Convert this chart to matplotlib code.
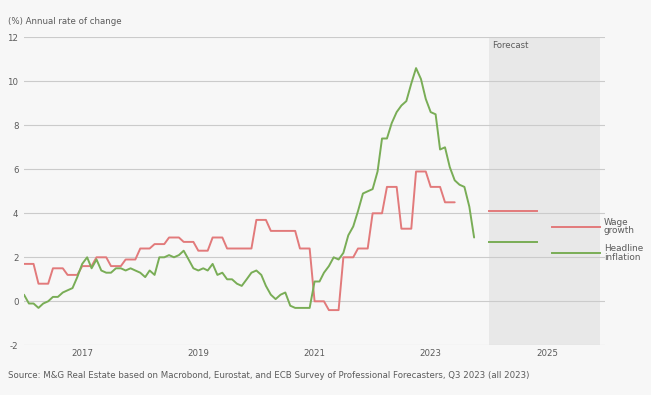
import numpy as np
import pandas as pd
import matplotlib
matplotlib.use("Agg")
import matplotlib.pyplot as plt

# ---- data ----
# Headline inflation, monthly from Jan 2016 (%)
inflation = [
    0.3, -0.1, -0.1, -0.3, -0.1, 0.0, 0.2, 0.2, 0.4, 0.5, 0.6, 1.1,      # 2016
    1.7, 2.0, 1.5, 1.9, 1.4, 1.3, 1.3, 1.5, 1.5, 1.4, 1.5, 1.4,          # 2017
    1.3, 1.1, 1.4, 1.2, 2.0, 2.0, 2.1, 2.0, 2.1, 2.3, 1.9, 1.5,          # 2018
    1.4, 1.5, 1.4, 1.7, 1.2, 1.3, 1.0, 1.0, 0.8, 0.7, 1.0, 1.3,          # 2019
    1.4, 1.2, 0.7, 0.3, 0.1, 0.3, 0.4, -0.2, -0.3, -0.3, -0.3, -0.3,     # 2020
    0.9, 0.9, 1.3, 1.6, 2.0, 1.9, 2.2, 3.0, 3.4, 4.1, 4.9, 5.0,          # 2021
    5.1, 5.9, 7.4, 7.4, 8.1, 8.6, 8.9, 9.1, 9.9, 10.6, 10.1, 9.2,        # 2022
    8.6, 8.5, 6.9, 7.0, 6.1, 5.5, 5.3, 5.2, 4.3, 2.9,                    # 2023
]
# Wage growth, quarterly from 2016 Q1 (%)
wages_q = [
    1.7, 0.8, 1.5, 1.2,
    1.6, 2.0, 1.6, 1.9,
    2.4, 2.6, 2.9, 2.7,
    2.3, 2.9, 2.4, 2.4,
    3.7, 3.2, 3.2, 2.4,
    0.0, -0.4, 2.0, 2.4,
    4.0, 5.2, 3.3, 5.9,
    5.2, 4.5,
]
# Forecasts (ECB SPF)
fc_years = ["2024", "2025"]
fc_wage = [4.1, 3.4]
fc_infl = [2.7, 2.2]

year_ticks = ["2017", "2019", "2021", "2023", "2025"]
y_ticks = [-2, 0, 2, 4, 6, 8, 10, 12]

# ---- styling ----
RED = "#e27a7b"
GREEN = "#79ad56"
TXT = "#5b5b5b"
BG = "#f7f7f7"
FS = 6.2
plt.rcParams["axes.unicode_minus"] = False
plt.rcParams["font.family"] = ["DejaVu Sans"]

fig = plt.figure(figsize=(6.51, 3.95), dpi=100, facecolor=BG)
ax = fig.add_axes([24 / 651, 1 - 345.3 / 395, 581 / 651, (345.3 - 37.3) / 395])
ax.set_facecolor(BG)

infl_dates = pd.date_range("2016-01-01", periods=len(inflation), freq="MS")
wage_monthly = np.repeat(wages_q, 3)
wage_dates = pd.date_range("2016-01-01", periods=len(wage_monthly), freq="MS")

# forecast shading
ax.axvspan(pd.Timestamp("2024-01-01"), pd.Timestamp("2025-12-01"),
           color="#e8e8e8", zorder=0, lw=0)

for yv in y_ticks:
    ax.axhline(yv, color="#cbcbcb", lw=0.8, zorder=1)

ax.plot(wage_dates, wage_monthly, color=RED, lw=1.4, zorder=3,
        solid_joinstyle="round", solid_capstyle="round")
ax.plot(infl_dates, inflation, color=GREEN, lw=1.4, zorder=3,
        solid_joinstyle="round", solid_capstyle="round")

# forecast segments
fc_spans = {
    "2024": (pd.Timestamp("2024-01-01"), pd.Timestamp("2024-11-01")),
    "2025": (pd.Timestamp("2025-02-01"), pd.Timestamp("2025-12-01")),
}
for yr, w, inf_ in zip(fc_years, fc_wage, fc_infl):
    s, e = fc_spans[yr]
    ax.plot([s, e], [w, w], color=RED, lw=1.4, zorder=3)
    ax.plot([s, e], [inf_, inf_], color=GREEN, lw=1.4, zorder=3)

ax.set_xlim(pd.Timestamp("2016-01-01"), pd.Timestamp("2026-01-01"))
ax.set_ylim(-2, 12)
ax.set_xticks([pd.Timestamp(f"{y}-01-01") for y in year_ticks])
ax.set_xticklabels(year_ticks)
ax.set_yticks(y_ticks)
ax.set_yticklabels([str(v) for v in y_ticks])
ax.tick_params(axis="both", length=0, labelsize=FS, labelcolor=TXT)
ax.tick_params(axis="x", pad=3)
ax.tick_params(axis="y", pad=4)
for sp in ax.spines.values():
    sp.set_visible(False)

# end labels
ax.text(pd.Timestamp("2025-12-24"), fc_wage[-1], "Wage\ngrowth", ha="left",
        va="center", fontsize=6.4, color=TXT, linespacing=0.9, clip_on=False)
ax.text(pd.Timestamp("2025-12-24"), fc_infl[-1], "Headline\ninflation",
        ha="left", va="center", fontsize=6.4, color=TXT, linespacing=0.9,
        clip_on=False)

fig.text(492 / 651, 1 - 45.5 / 395, "Forecast", ha="left", va="center",
         fontsize=FS, color=TXT)
fig.text(8 / 651, 1 - 22 / 395, "(%) Annual rate of change", ha="left",
         va="center", fontsize=FS, color=TXT)
fig.text(8 / 651, 1 - 375 / 395,
         "Source: M&G Real Estate based on Macrobond, Eurostat, and ECB Survey "
         "of Professional Forecasters, Q3 2023 (all 2023)",
         ha="left", va="center", fontsize=6.2, color=TXT)

fig.savefig("out.png", dpi=100, facecolor=BG)
